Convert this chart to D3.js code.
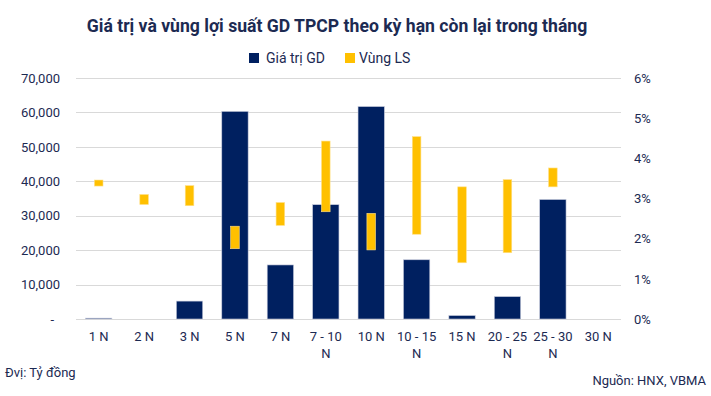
<!DOCTYPE html>
<html>
<head>
<meta charset="utf-8">
<script src="https://cdn.jsdelivr.net/npm/d3@7"></script>
<style>
  body { margin: 0; background: #fff; }
  svg { display: block; font-family: Roboto, "Noto Sans", sans-serif; }
</style>
</head>
<body>
<script>
const categories = ["1 N", "2 N", "3 N", "5 N", "7 N", "7 - 10|N", "10 N", "10 - 15|N", "15 N", "20 - 25|N", "25 - 30|N", "30 N"];
const giaTriGD = [250, 0, 5200, 60300, 15700, 33200, 61700, 17200, 1000, 6500, 34700, 0];
const lsLow  = [3.31, 2.85, 2.82, 1.75, 2.33, 2.67, 1.72, 2.11, 1.40, 1.65, 3.29, null];
const lsHigh = [3.46, 3.10, 3.32, 2.31, 2.90, 4.43, 2.63, 4.54, 3.29, 3.47, 3.76, null];
const leftTicks = [0, 10000, 20000, 30000, 40000, 50000, 60000, 70000];
const rightTicks = [0, 1, 2, 3, 4, 5, 6];

const W = 711, H = 396;
const margin = {top: 78, right: 90, bottom: 77, left: 76},
    width = W - margin.left - margin.right,
    height = H - margin.top - margin.bottom;

const navy = "#002060", gold = "#ffc000", ink = "#1c2a52";

const svg = d3.select("body").append("svg")
    .attr("width", W)
    .attr("height", H);

const x = d3.scaleBand()
    .domain(categories)
    .range([0, width]);

const yL = d3.scaleLinear().domain([0, 70000]).range([height, 0]);
const yR = d3.scaleLinear().domain([0, 6]).range([height, 0]);

const g = svg.append("g")
    .attr("transform", "translate(" + margin.left + "," + margin.top + ")");

// gridlines
g.append("g")
    .selectAll("line")
    .data(leftTicks)
    .join("line")
    .attr("x1", 0)
    .attr("x2", width)
    .attr("y1", d => Math.round(yL(d)) + 0.5)
    .attr("y2", d => Math.round(yL(d)) + 0.5)
    .attr("stroke", "#d9d9d9")
    .attr("stroke-width", 1);

// left axis
const fmt = d3.format(",");
g.append("g")
    .call(d3.axisLeft(yL).tickValues(leftTicks).tickSize(0).tickPadding(16)
        .tickFormat(d => d === 0 ? "-" : fmt(d)))
    .call(a => a.select(".domain").remove())
    .call(a => a.selectAll("text")
        .attr("font-family", "Roboto")
        .attr("font-size", 13)
        .attr("fill", ink)
        .attr("dx", d => d === 0 ? -6 : 0));

// right axis
g.append("g")
    .attr("transform", "translate(" + width + ",0)")
    .call(d3.axisRight(yR).tickValues(rightTicks).tickSize(0).tickPadding(13)
        .tickFormat(d => d + "%"))
    .call(a => a.select(".domain").remove())
    .call(a => a.selectAll("text")
        .attr("font-family", "Roboto")
        .attr("font-size", 13)
        .attr("fill", ink));

// bars for value
const barW = x.bandwidth() * 0.58;
g.append("g")
    .selectAll("rect")
    .data(categories.map((c, i) => ({c: c, v: giaTriGD[i]})).filter(d => d.v > 0))
    .join("rect")
    .attr("x", d => x(d.c) + (x.bandwidth() - barW) / 2)
    .attr("y", d => yL(d.v))
    .attr("width", barW)
    .attr("height", d => yL(0) - yL(d.v))
    .attr("fill", navy)
    .attr("stroke", "#c5cadb")
    .attr("stroke-width", 0.6);

// yield range bars
const lsW = 8.6;
g.append("g")
    .selectAll("rect")
    .data(categories.map((c, i) => ({c: c, lo: lsLow[i], hi: lsHigh[i]})).filter(d => d.lo != null))
    .join("rect")
    .attr("x", d => x(d.c) + x.bandwidth() / 2 - lsW / 2)
    .attr("y", d => yR(d.hi))
    .attr("width", lsW)
    .attr("height", d => yR(d.lo) - yR(d.hi))
    .attr("fill", gold)
    .attr("stroke", "#ffe08a")
    .attr("stroke-width", 0.6);

// x labels
const xl = g.append("g")
    .attr("transform", "translate(0," + height + ")")
    .selectAll("text")
    .data(categories)
    .join("text")
    .attr("x", d => x(d) + x.bandwidth() / 2)
    .attr("y", 22)
    .attr("text-anchor", "middle")
    .attr("font-size", 13)
    .attr("fill", ink);
xl.each(function(d) {
    const parts = d.split("|");
    parts.forEach((p, i) => {
        d3.select(this).append("tspan")
            .attr("x", x(d) + x.bandwidth() / 2)
            .attr("dy", i === 0 ? 0 : 17)
            .text(p);
    });
});

// title
svg.append("text")
    .attr("x", 337)
    .attr("y", 32)
    .attr("text-anchor", "middle")
    .attr("font-size", 17.6)
    .attr("font-weight", "bold")
    .attr("fill", ink)
    .text("Giá trị và vùng lợi suất GD TPCP theo kỳ hạn còn lại trong tháng");

// legend
const legend = [{name: "Giá trị GD", color: navy, x: 249}, {name: "Vùng LS", color: gold, x: 345}];
const lg = svg.append("g").selectAll("g").data(legend).join("g")
    .attr("transform", d => "translate(" + d.x + ",53)");
lg.append("rect").attr("width", 10).attr("height", 10).attr("fill", d => d.color);
lg.append("text")
    .attr("x", d => d.name === "Vùng LS" ? 14 : 17)
    .attr("y", 10)
    .attr("font-size", 14)
    .attr("fill", ink)
    .text(d => d.name);

// notes
svg.append("text")
    .attr("x", 5)
    .attr("y", 377)
    .attr("font-size", 13)
    .attr("fill", ink)
    .text("Đvị: Tỷ đồng");
svg.append("text")
    .attr("x", 706)
    .attr("y", 385)
    .attr("text-anchor", "end")
    .attr("font-size", 13)
    .attr("fill", ink)
    .text("Nguồn: HNX, VBMA");
</script>
</body>
</html>
